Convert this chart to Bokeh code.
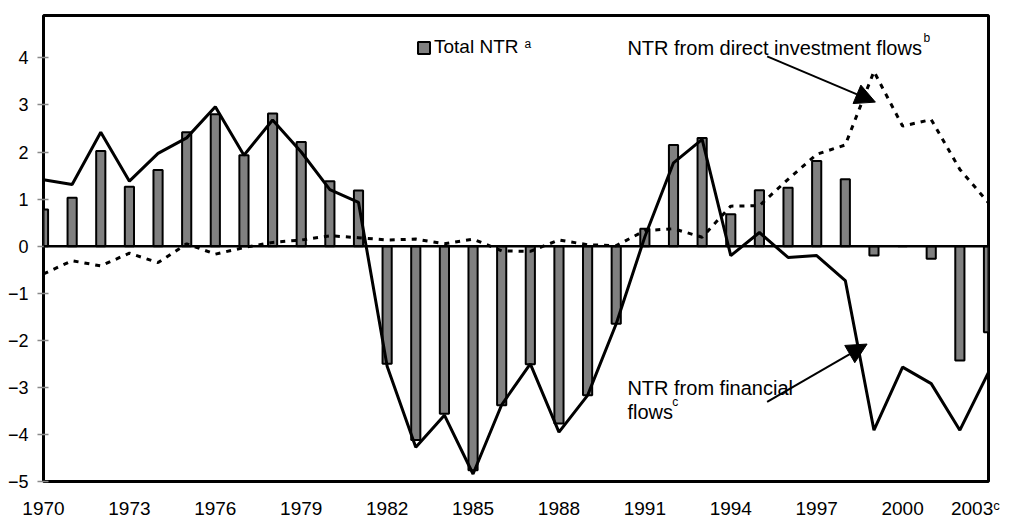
from bokeh.plotting import figure
from bokeh.models import Range1d, FixedTicker, Span, Label, Arrow, NormalHead
from bokeh.embed import file_html
from bokeh.resources import INLINE

# ---- data ----
years = list(range(1970, 2004))
total_ntr = [0.78, 1.03, 2.02, 1.26, 1.62, 2.42, 2.80, 1.93, 2.82, 2.21,
             1.38, 1.18, -2.50, -4.12, -3.56, -4.76, -3.38, -2.51, -3.77, -3.17,
             -1.65, 0.37, 2.15, 2.30, 0.68, 1.19, 1.24, 1.81, 1.42, -0.20,
             0.00, -0.27, -2.43, -1.83]
financial_flows = [1.41, 1.31, 2.42, 1.38, 1.97, 2.30, 2.96, 1.93, 2.68, 2.00,
                   1.20, 0.93, -2.55, -4.27, -3.59, -4.84, -3.37, -2.50, -3.95, -3.17,
                   -1.65, 0.20, 1.77, 2.27, -0.20, 0.29, -0.24, -0.20, -0.73, -3.91,
                   -2.57, -2.92, -3.91, -2.68]
direct_flows = [-0.59, -0.31, -0.42, -0.15, -0.35, 0.05, -0.17, -0.03, 0.08, 0.13,
                0.22, 0.18, 0.13, 0.15, 0.05, 0.15, -0.10, -0.11, 0.13, 0.03,
                0.01, 0.33, 0.37, 0.19, 0.85, 0.86, 1.42, 1.95, 2.15, 3.71,
                2.55, 2.69, 1.63, 0.92]
x_tick_years = [1970, 1973, 1976, 1979, 1982, 1985, 1988, 1991, 1994, 1997, 2000, 2003]
x_tick_labels = {2003: "2003\u1d9c\u2007"}
y_ticks = [-5, -4, -3, -2, -1, 0, 1, 2, 3, 4]

FONT = "Liberation Sans"

p = figure(width=1010, height=521,
           x_range=Range1d(1970, 2003), y_range=Range1d(-5, 4.9),
           output_backend="svg", toolbar_location=None,
           min_border_left=43, min_border_right=22,
           min_border_top=15, min_border_bottom=38)
p.background_fill_color = "white"
p.border_fill_color = "white"
p.xgrid.visible = False
p.ygrid.visible = False
p.outline_line_color = "black"
p.outline_line_width = 3

# x axis
p.xaxis.ticker = FixedTicker(ticks=x_tick_years)
p.xaxis.major_label_overrides = x_tick_labels
p.xaxis.axis_line_color = None
p.xaxis.major_tick_line_color = None
p.xaxis.minor_tick_line_color = None
p.xaxis.major_tick_out = 0
p.xaxis.major_tick_in = 0
p.xaxis.major_label_standoff = 16
p.xaxis.major_label_text_font = FONT
p.xaxis.major_label_text_font_size = "19px"
p.xaxis.major_label_text_color = "black"

# y axis
p.yaxis.ticker = FixedTicker(ticks=y_ticks)
p.yaxis.axis_line_color = None
p.yaxis.major_tick_in = 5
p.yaxis.major_tick_out = 6
p.yaxis.major_tick_line_color = "#8a8a8a"
p.yaxis.major_tick_line_width = 1.5
p.yaxis.minor_tick_line_color = None
p.yaxis.major_label_standoff = 9
p.yaxis.major_label_text_font = FONT
p.yaxis.major_label_text_font_size = "18px"
p.yaxis.major_label_text_color = "black"

# bars
p.vbar(x=years, top=total_ntr, bottom=0, width=0.32,
       fill_color="#808080", line_color="black", line_width=2,
       legend_label="Total NTR")

# zero line
p.add_layout(Span(location=0, dimension="width", line_color="black", line_width=2.5))

# lines
p.line(years, direct_flows, line_color="black", line_width=3, line_dash="5 6")
p.line(years, financial_flows, line_color="black", line_width=3)

# legend
lg = p.legend[0]
lg.location = (373, 423)
lg.padding = 0
lg.margin = 0
lg.border_line_color = None
lg.background_fill_alpha = 0
lg.glyph_width = 15
lg.glyph_height = 15
lg.label_height = 15
lg.label_standoff = 3
lg.label_text_font = FONT
lg.label_text_font_size = "19px"
lg.label_text_color = "black"

def txt(x, y, s, size="20px", baseline="alphabetic", align="left"):
    p.add_layout(Label(x=x, y=y, text=s, text_font=FONT, text_font_size=size,
                       text_color="black", text_baseline=baseline, text_align=align))

# annotations
txt(1986.80, 4.45, "a", size="12px", baseline="top")
txt(1990.39, 4.22, "NTR from direct investment flows")
txt(2000.73, 4.58, "b", size="12px", baseline="top")
txt(1990.39, -3.01, "NTR from financial")
txt(1990.39, -3.52, "flows")
txt(1991.96, -3.16, "c", size="12px", baseline="top")

# arrows
p.add_layout(Arrow(end=NormalHead(size=20, fill_color="black", line_color="black"),
                   x_start=1995.27, y_start=4.03, x_end=1999.05, y_end=3.06,
                   line_color="black", line_width=2))
p.add_layout(Arrow(end=NormalHead(size=20, fill_color="black", line_color="black"),
                   x_start=1995.27, y_start=-3.31, x_end=1998.76, y_end=-2.08,
                   line_color="black", line_width=2))

open("out.html", "w").write(file_html(p, INLINE))
